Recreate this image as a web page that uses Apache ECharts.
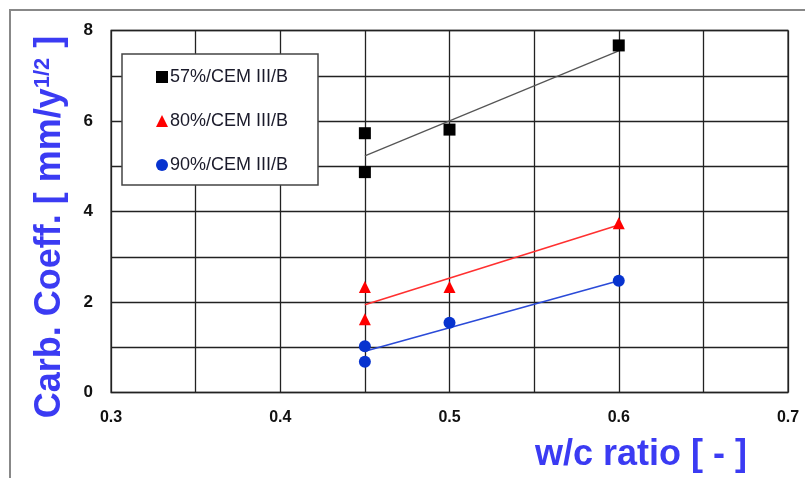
<!DOCTYPE html>
<html>
<head>
<meta charset="utf-8">
<script src="https://cdn.jsdelivr.net/npm/echarts@6/dist/echarts.min.js"></script>
<style>html,body{margin:0;padding:0;background:#fff}#c{width:805px;height:478px}</style>
</head>
<body>
<div id="c"></div>
<script>
// Data
const names = ['57%/CEM III/B', '80%/CEM III/B', '90%/CEM III/B'];
const wc = [0.45, 0.45, 0.5, 0.6];
const cem57 = [5.73, 4.87, 5.81, 7.67];
const cem80 = [2.33, 1.62, 2.33, 3.74];
const cem90 = [1.02, 0.68, 1.54, 2.47];
// Trend line end points
const trendX = [0.45, 0.6];
const trend57 = [5.23, 7.55];
const trend80 = [1.94, 3.70];
const trend90 = [0.91, 2.47];
const xTickLabels = ['0.3', '0.4', '0.5', '0.6', '0.7'];
const yTickLabels = ['0', '2', '4', '6', '8'];

const pairs = (xs, ys) => xs.map((x, i) => [x, ys[i]]);
const font = 'Arial, "Liberation Sans", sans-serif';
const blue = '#3b3bf3';

const chart = echarts.init(document.getElementById('c'), null, {renderer: 'canvas'});
chart.setOption({
  animation: false,
  backgroundColor: '#fff',
  grid: {left: 111, right: 17, top: 30.5, bottom: 85.5, show: true, borderColor: '#555', borderWidth: 1.5, backgroundColor: 'transparent'},
  xAxis: {
    type: 'value', min: 0.3, max: 0.7, interval: 0.05,
    axisLine: {show: false}, axisTick: {show: false},
    splitLine: {show: true, lineStyle: {color: '#222', width: 1.3}},
    axisLabel: {
      margin: 17, color: '#111', fontSize: 16, fontWeight: 'bold', fontFamily: font,
      formatter: v => { const s = (Math.round(v * 100) / 100).toString(); return xTickLabels.includes(s) ? s : ''; }
    }
  },
  yAxis: {
    type: 'value', min: 0, max: 8, interval: 1,
    axisLine: {show: false}, axisTick: {show: false},
    splitLine: {show: true, lineStyle: {color: '#222', width: 1.3}},
    axisLabel: {
      margin: 18, color: '#111', fontSize: 17, fontWeight: 'bold', fontFamily: font,
      formatter: v => { const s = String(Math.round(v)); return yTickLabels.includes(s) ? s : ''; }
    }
  },
  legend: {
    orient: 'vertical', left: 151, top: 63, itemWidth: 12, itemHeight: 12, itemGap: 26,
    textStyle: {color: '#1a1a2a', fontSize: 18, fontFamily: font, padding: [0, 0, 0, -3]},
    data: [
      {name: names[0], icon: 'rect'},
      {name: names[1], icon: 'triangle'},
      {name: names[2], icon: 'circle'}
    ],
    z: 5
  },
  series: [
    {name: names[0], type: 'scatter', symbol: 'rect', symbolSize: 12, itemStyle: {color: '#000', opacity: 1}, data: pairs(wc, cem57), z: 4},
    {name: names[1], type: 'scatter', symbol: 'triangle', symbolSize: 12, itemStyle: {color: '#ff0000', opacity: 1}, data: pairs(wc, cem80), z: 4},
    {name: names[2], type: 'scatter', symbol: 'circle', symbolSize: 12, itemStyle: {color: '#0733cf', opacity: 1}, data: pairs(wc, cem90), z: 4},
    {type: 'line', symbol: 'none', lineStyle: {color: '#555', width: 1.2}, data: pairs(trendX, trend57), z: 3},
    {type: 'line', symbol: 'none', lineStyle: {color: '#ff3030', width: 1.6}, data: pairs(trendX, trend80), z: 3},
    {type: 'line', symbol: 'none', lineStyle: {color: '#2a4ad8', width: 1.6}, data: pairs(trendX, trend90), z: 3}
  ],
  graphic: [
    {type: 'rect', z: 1, silent: true, shape: {x: 10, y: 10, width: 820, height: 500},
     style: {fill: null, stroke: '#888', lineWidth: 2}},
    {type: 'rect', z: 3, silent: true, shape: {x: 122, y: 54, width: 196, height: 131},
     style: {fill: '#fff', stroke: '#444', lineWidth: 1.5}},
    {type: 'text', silent: true, x: 50, y: 227, rotation: Math.PI / 2,
     style: {
       text: 'Carb. Coeff. [ mm/y{sup|1/2} ]',
       fill: blue, font: 'bold 36px ' + font, align: 'center', verticalAlign: 'middle',
       rich: {sup: {fontSize: 22, fontWeight: 'bold', fill: blue, verticalAlign: 'top', fontFamily: font}}
     }},
    {type: 'text', silent: true, x: 641, y: 455,
     style: {text: 'w/c ratio [ - ]', fill: blue, font: 'bold 36px ' + font, align: 'center', verticalAlign: 'middle'}}
  ]
});
</script>
</body>
</html>
